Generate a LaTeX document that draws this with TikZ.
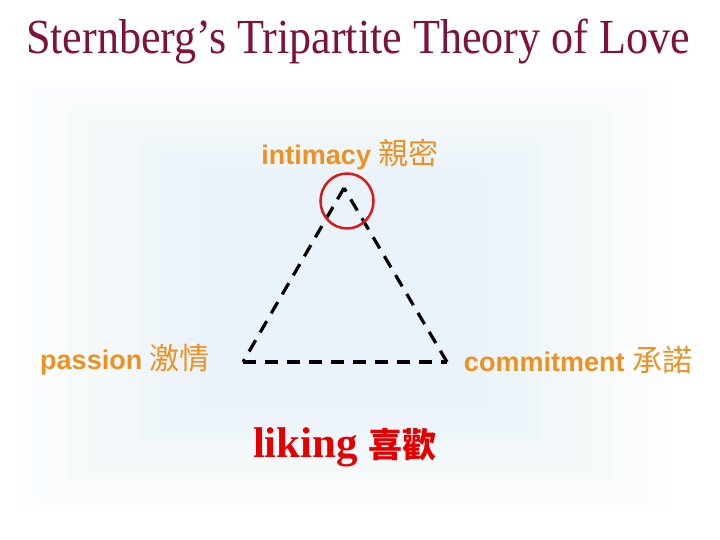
\documentclass[tikz,border=0pt]{standalone}
\usepackage{fontspec}
\setmainfont{Liberation Serif}
\newfontfamily\lsans{Liberation Sans}
\newfontfamily\cjk{Noto Sans CJK TC}
\definecolor{titlered}{RGB}{128,16,60}
\definecolor{lblorange}{RGB}{236,146,34}
\definecolor{likered}{RGB}{228,0,0}
\definecolor{ringred}{RGB}{222,24,24}
\definecolor{glow}{RGB}{220,235,250}
\tikzset{
  lbl/.style={text=lblorange, font=\lsans\bfseries\fontsize{27}{32}\selectfont, inner sep=0pt},
  edgeline/.style={line width=3.2pt, dash pattern=on 13pt off 9pt, black},
}
\begin{document}
\begin{tikzpicture}[x=1pt,y=-1pt]
\useasboundingbox (0,0) rectangle (720,540);
\fill[white] (0,0) rectangle (720,540);
\foreach \i in {0,...,11}{
  \fill[glow, opacity=0.055] (16+\i*18,80+\i*9) rectangle (665-\i*18,510-\i*10);
}
\node[text=titlered, font=\fontsize{49}{54}\selectfont, inner sep=0pt, xscale=0.9, transform shape] (title) at (358,42) {Sternberg’s Tripartite Theory of Love};
\coordinate (A) at (344,188);
\coordinate (L) at (243,362);
\coordinate (R) at (447,362);
\draw[edgeline] (A) -- (L);
\draw[edgeline] (L) -- (R);
\draw[edgeline] (R) -- (A);
\draw[ringred, line width=2.5pt] (347,201) ellipse (26.5 and 27.5) node (ring) {};
\node[lbl] (intimacy) at (350,155) {intimacy {\cjk\mdseries\fontsize{30}{34}\selectfont 親密}};
\node[lbl] (passion) at (125,360) {passion {\cjk\mdseries\fontsize{30}{34}\selectfont 激情}};
\node[lbl] (commit) at (578,360) {commitment {\cjk\mdseries\fontsize{30}{34}\selectfont 承諾}};
\node[text=likered, font=\bfseries\fontsize{43}{48}\selectfont, inner sep=0pt] (liking) at (345,447) {liking {\cjk\bfseries\fontsize{34}{38}\selectfont 喜歡}};
\end{tikzpicture}
\end{document}
